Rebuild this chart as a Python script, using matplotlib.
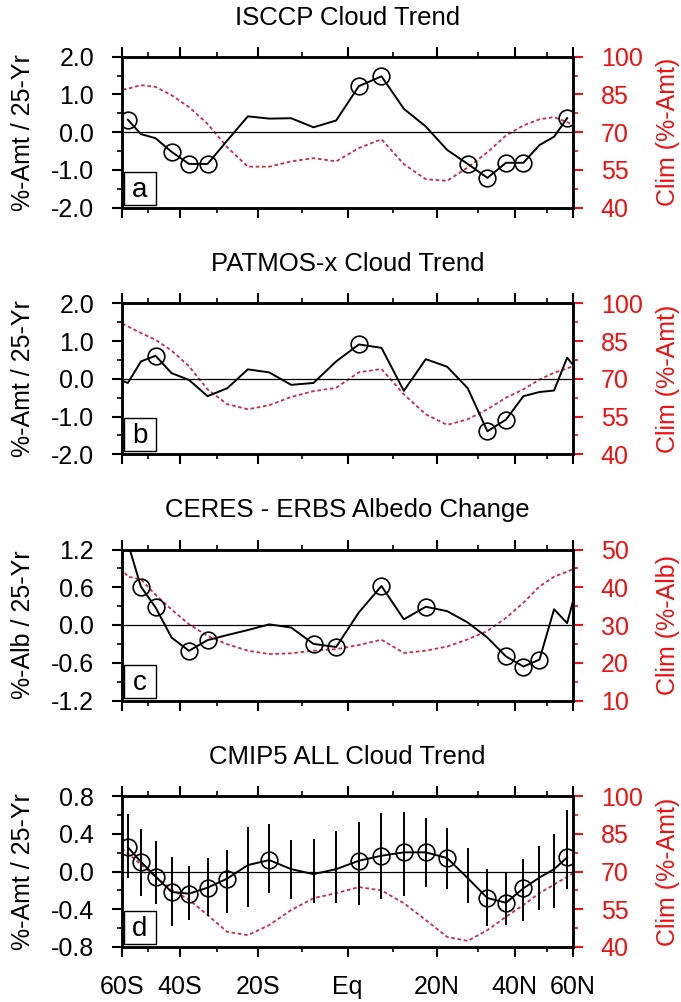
import numpy as np
import matplotlib
matplotlib.use('Agg')
import matplotlib.pyplot as plt
from matplotlib.patches import Rectangle

plt.rcParams['font.family'] = ['Liberation Sans', 'DejaVu Sans']

# ---------------- data ----------------
lat24 = [-57.5, -52.5, -47.5, -42.5, -37.5, -32.5, -27.5, -22.5, -17.5, -12.5, -7.5, -2.5,
         2.5, 7.5, 12.5, 17.5, 22.5, 27.5, 32.5, 37.5, 42.5, 47.5, 52.5, 57.5]
lat26 = [-62.5] + lat24 + [62.5]

xtick_lats = [-60, -40, -20, 0, 20, 40, 60]
xtick_labels = ['60S', '40S', '20S', 'Eq', '20N', '40N', '60N']
xminor_lats = [-50, -30, -10, 10, 30, 50]

titles = ['ISCCP Cloud Trend', 'PATMOS-x Cloud Trend', 'CERES - ERBS Albedo Change', 'CMIP5 ALL Cloud Trend']
panel_letters = ['a', 'b', 'c', 'd']
left_labels = ['%-Amt / 25-Yr', '%-Amt / 25-Yr', '%-Alb / 25-Yr', '%-Amt / 25-Yr']
right_labels = ['Clim (%-Amt)', 'Clim (%-Amt)', 'Clim (%-Alb)', 'Clim (%-Amt)']

# (a) ISCCP
isccp_trend = [0.33, -0.05, -0.16, -0.52, -0.84, -0.84, -0.22, 0.42, 0.36, 0.37, 0.13, 0.31,
               1.22, 1.48, 0.62, 0.15, -0.47, -0.84, -1.21, -0.81, -0.81, -0.34, -0.12, 0.37]
isccp_sig = [-57.5, -42.5, -37.5, -32.5, 2.5, 7.5, 27.5, 32.5, 37.5, 42.5, 57.5]
isccp_clim = [86.5, 87.3, 88.7, 88.0, 84.7, 80.0, 73.3, 64.0, 56.3, 56.3, 58.4, 59.7, 58.4,
              63.7, 67.2, 57.3, 51.3, 50.7, 56.0, 62.0, 68.7, 72.7, 75.1, 76.0, 74.0, 72.0]

# (b) PATMOS-x
patmos_trend = [0.0, -0.11, 0.46, 0.61, 0.15, -0.03, -0.46, -0.25, 0.25, 0.17, -0.16, -0.11, 0.46,
                0.91, 0.82, -0.32, 0.52, 0.32, -0.25, -1.39, -1.08, -0.46, -0.35, -0.31, 0.56, 0.19]
patmos_sig = [-47.5, 2.5, 32.5, 37.5]
patmos_clim = [93.0, 90.8, 88.2, 85.5, 81.2, 75.0, 65.8, 59.9, 57.9, 59.5, 62.8, 65.1, 66.4,
               72.6, 73.9, 63.8, 55.9, 51.7, 53.9, 57.9, 62.5, 65.8, 69.7, 72.4, 74.1, 76.0]

# (c) CERES - ERBS
ceres_trend = [1.6, 1.3, 0.61, 0.28, -0.2, -0.41, -0.24, -0.16, -0.08, 0.01, -0.04, -0.30, -0.35,
               0.2, 0.62, 0.09, 0.29, 0.22, 0.04, -0.2, -0.5, -0.66, -0.55, 0.25, 0.03, 0.70]
ceres_sig = [-52.5, -47.5, -37.5, -32.5, -7.5, -2.5, 7.5, 17.5, 37.5, 42.5, 47.5]
ceres_clim = [46.4, 42.8, 42.1, 38.0, 34.1, 30.2, 27.1, 24.9, 23.2, 22.3, 22.5, 23.2, 23.6,
              24.7, 26.1, 22.6, 23.2, 24.3, 26.2, 28.4, 31.9, 35.9, 40.2, 42.8, 44.1, 45.5]

# (d) CMIP5
cmip_trend = [0.256, 0.103, -0.053, -0.217, -0.235, -0.171, -0.075, 0.068, 0.121, 0.025, -0.028, 0.025,
              0.114, 0.167, 0.203, 0.203, 0.142, -0.07, -0.281, -0.331, -0.178, -0.064, 0.025, 0.149]
cmip_upper = [0.612, 0.452, 0.327, 0.149, 0.06, 0.139, 0.228, 0.47, 0.505, 0.338, 0.345, 0.434,
              0.523, 0.623, 0.63, 0.566, 0.463, 0.249, 0.025, -0.021, 0.132, 0.274, 0.399, 0.648]
cmip_lower = [-0.064, -0.26, -0.349, -0.58, -0.509, -0.473, -0.438, -0.374, -0.224, -0.295, -0.331, -0.33,
              -0.359, -0.288, -0.26, -0.164, -0.181, -0.338, -0.58, -0.562, -0.52, -0.413, -0.391, -0.189]
cmip_sig = [-57.5, -52.5, -47.5, -42.5, -37.5, -32.5, -27.5, -17.5, 2.5, 7.5, 12.5, 17.5, 22.5,
            32.5, 37.5, 42.5, 57.5]
cmip_clim = [80.5, 77.2, 72.8, 67.9, 62.8, 58.8, 52.7, 46.0, 44.7, 48.7, 54.7, 59.4, 61.4,
             63.8, 62.5, 57.4, 50.7, 44.0, 42.4, 46.7, 52.0, 56.7, 61.4, 64.8, 67.9, 70.5]

panels = [
    dict(lat=lat24, trend=isccp_trend, sig=isccp_sig, clim=isccp_clim,
         ylim=(-2, 2), yticks=[-2.0, -1.0, 0.0, 1.0, 2.0], yminor=0.5, yfmt='%.1f',
         rlim=(40, 100), rticks=[40, 55, 70, 85, 100], rminor=7.5),
    dict(lat=lat26, trend=patmos_trend, sig=patmos_sig, clim=patmos_clim,
         ylim=(-2, 2), yticks=[-2.0, -1.0, 0.0, 1.0, 2.0], yminor=0.5, yfmt='%.1f',
         rlim=(40, 100), rticks=[40, 55, 70, 85, 100], rminor=7.5),
    dict(lat=lat26, trend=ceres_trend, sig=ceres_sig, clim=ceres_clim,
         ylim=(-1.2, 1.2), yticks=[-1.2, -0.6, 0.0, 0.6, 1.2], yminor=0.3, yfmt='%.1f',
         rlim=(10, 50), rticks=[10, 20, 30, 40, 50], rminor=5),
    dict(lat=lat24, trend=cmip_trend, sig=cmip_sig, clim=cmip_clim,
         ylim=(-0.8, 0.8), yticks=[-0.8, -0.4, 0.0, 0.4, 0.8], yminor=0.2, yfmt='%.1f',
         rlim=(40, 100), rticks=[40, 55, 70, 85, 100], rminor=7.5,
         upper=cmip_upper, lower=cmip_lower),
]

# ---------------- layout ----------------
W, H = 681, 1002
fig = plt.figure(figsize=(W / 100, H / 100), dpi=100)
left_px, right_px = 122, 573
tops_px = [56.7, 303.3, 549.5, 796.0]
h_px = 151
FS = 18
RED = '#ee1111'
CLIMC = '#cc2a48'

def s(l):
    return np.sin(np.deg2rad(np.asarray(l, dtype=float)))

for i, p in enumerate(panels):
    top = tops_px[i]
    ax = fig.add_axes([left_px / W, 1 - (top + h_px) / H, (right_px - left_px) / W, h_px / H])
    ax2 = ax.twinx()
    ax.set_zorder(2)
    ax.patch.set_visible(False)
    ax2.set_zorder(1)

    # clim (red dashed) on the right axis
    ax2.plot(s(lat26), p['clim'], color=CLIMC, lw=1.3, dashes=(2, 1.5))
    ax2.set_ylim(*p['rlim'])
    ax2.set_yticks(p['rticks'])
    ax2.set_yticks(np.arange(p['rlim'][0], p['rlim'][1] + 0.01, p['rminor']), minor=True)
    ax2.tick_params(axis='y', which='major', colors=RED, labelsize=FS, length=7, width=1.5,
                    direction='out', pad=13)
    ax2.tick_params(axis='y', which='minor', colors=RED, length=3.5, width=1.2, direction='out')

    # zero line
    ax.axhline(0, color='black', lw=0.9, zorder=1)

    # error bars for CMIP5
    if 'upper' in p:
        ax.vlines(s(p['lat']), p['lower'], p['upper'], color='black', lw=1.4, zorder=2)

    # trend line
    ax.plot(s(p['lat']), p['trend'], color='black', lw=1.4, zorder=3)
    lat_list = list(p['lat'])
    sig_vals = [p['trend'][lat_list.index(l)] for l in p['sig']]
    ax.plot(s(p['sig']), sig_vals, linestyle='none', marker='o', ms=12, mfc='none',
            mec='black', mew=1.2, zorder=4)

    ax.set_xlim(s(-60), s(60))
    ax.set_ylim(*p['ylim'])
    ax.set_yticks(p['yticks'])
    ax.set_yticklabels([p['yfmt'] % v for v in p['yticks']])
    ax.set_yticks(np.arange(p['ylim'][0], p['ylim'][1] + 1e-6, p['yminor']), minor=True)
    ax.set_xticks(s(xtick_lats))
    ax.set_xticks(s(xminor_lats), minor=True)
    if i == 3:
        ax.set_xticklabels(xtick_labels)
    else:
        ax.set_xticklabels([])
    ax.tick_params(axis='both', which='major', direction='out', length=7, width=1.5,
                   labelsize=FS, pad=13, top=True, bottom=True)
    ax.tick_params(axis='both', which='minor', direction='out', length=3.5, width=1.2,
                   top=True, bottom=True)
    for sp in list(ax.spines.values()) + list(ax2.spines.values()):
        sp.set_linewidth(1.8)

    # panel letter box
    bx0 = (124 - left_px) / (right_px - left_px)
    bx1 = (156 - left_px) / (right_px - left_px)
    by0 = 3 / h_px
    by1 = 36 / h_px
    ax.add_patch(Rectangle((bx0, by0), bx1 - bx0, by1 - by0, transform=ax.transAxes,
                           fc='white', ec='black', lw=1.0, zorder=5))
    ax.text((bx0 + bx1) / 2, (by0 + by1) / 2 - 0.01, panel_letters[i], transform=ax.transAxes,
            ha='center', va='center', fontsize=FS + 2, zorder=6)

    # title
    ax.text(0.5, 1 + 39 / h_px, titles[i], transform=ax.transAxes, ha='center', va='center',
            fontsize=FS + 0.5)

    # y labels
    yc = 1 - (top + h_px / 2) / H
    fig.text(23 / W, yc, left_labels[i], rotation=90, ha='center', va='center', fontsize=FS)
    fig.text(668 / W, yc, right_labels[i], rotation=90, ha='center', va='center', fontsize=FS,
             color=RED)

fig.savefig('out.png', dpi=100)
